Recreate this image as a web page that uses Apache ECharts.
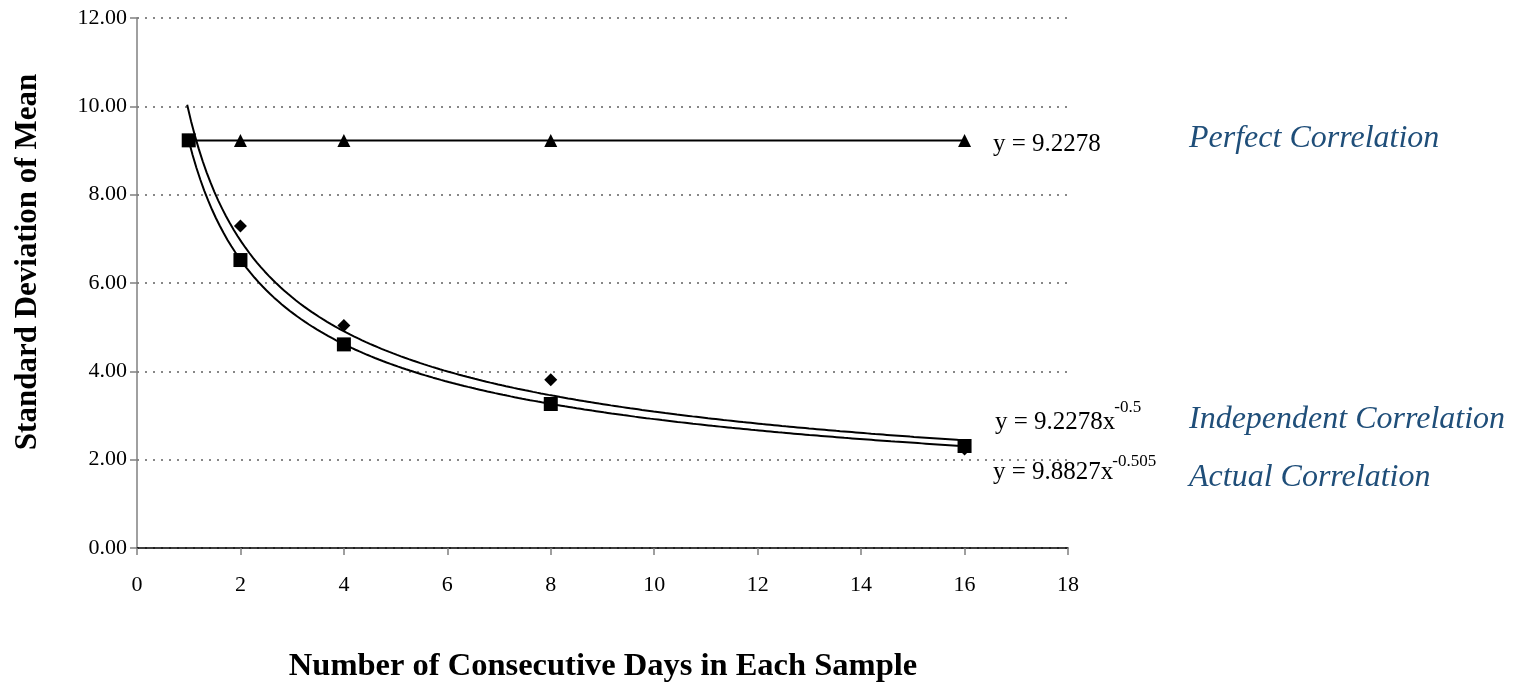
<!DOCTYPE html>
<html>
<head>
<meta charset="utf-8">
<script src="https://cdn.jsdelivr.net/npm/echarts@6/dist/echarts.min.js"></script>
<style>
html,body{margin:0;padding:0;background:#fff;overflow:hidden;}
#c{width:1519px;height:682px;}
</style>
</head>
<body>
<div id="c"></div>
<script>
// ---- data ----
const days = [1, 2, 4, 8, 16];
const perfect = [9.2278, 9.2278, 9.2278, 9.2278, 9.2278];
const independent = [9.23, 6.52, 4.61, 3.26, 2.31];
const actual = [9.23, 7.29, 5.04, 3.81, 2.24];
// trendline equations printed on the chart: y = a * x^b
const perfectTrend = { a: 9.2278, b: 0, from: 1, to: 16 };
const independentTrend = { a: 9.2278, b: -0.5, from: 1, to: 16 };
const actualTrend = { a: 9.8827, b: -0.505, from: 0.97, to: 16 };
const xTicks = [0, 2, 4, 6, 8, 10, 12, 14, 16, 18];
const yTicks = [0, 2, 4, 6, 8, 10, 12];
const seriesLabels = ['Perfect Correlation', 'Independent Correlation', 'Actual Correlation'];
const equations = [
  { main: 'y = 9.2278', sup: '' },
  { main: 'y = 9.2278x', sup: '-0.5' },
  { main: 'y = 9.8827x', sup: '-0.505' }
];
const xTitle = 'Number of Consecutive Days in Each Sample';
const yTitle = 'Standard Deviation of Mean';

function trend(t) {
  const pts = [];
  const n = 200;
  for (let i = 0; i <= n; i++) {
    const x = t.from + (t.to - t.from) * i / n;
    pts.push([x, t.a * Math.pow(x, t.b)]);
  }
  return pts;
}
const pair = (xs, ys) => xs.map((x, i) => [x, ys[i]]);

const serif = '"Liberation Serif", "Times New Roman", serif';
const eqFont = '25px ' + serif;
const supFont = '17px ' + serif;
const labFont = 'italic 32px ' + serif;
const mctx = document.createElement('canvas').getContext('2d');
function textW(t, f) { mctx.font = f; return mctx.measureText(t).width; }

const eqPos = [ { x: 993, y: 144, sy: 0 }, { x: 995, y: 422, sy: 408 }, { x: 993, y: 472, sy: 462 } ];
const labPos = [ { x: 1189, y: 139 }, { x: 1189, y: 420 }, { x: 1189, y: 478 } ];

const graphics = [];
equations.forEach((e, i) => {
  const p = eqPos[i];
  graphics.push({ type: 'text', x: p.x, y: p.y,
    style: { text: e.main, font: eqFont, fill: '#000', align: 'left', verticalAlign: 'middle' } });
  if (e.sup) {
    graphics.push({ type: 'text', x: p.x + textW(e.main, eqFont) - 1, y: p.sy,
      style: { text: e.sup, font: supFont, fill: '#000', align: 'left', verticalAlign: 'middle' } });
  }
});
seriesLabels.forEach((s, i) => {
  graphics.push({ type: 'text', x: labPos[i].x, y: labPos[i].y,
    style: { text: s, font: labFont, fill: '#1f4e79', align: 'left', verticalAlign: 'middle' } });
});
graphics.push({ type: 'text', x: 28, y: 262, rotation: Math.PI / 2,
  style: { text: yTitle, font: 'bold 31px ' + serif, fill: '#000', align: 'center', verticalAlign: 'middle' } });
graphics.push({ type: 'text', x: 603, y: 667,
  style: { text: xTitle, font: 'bold 32.5px ' + serif, fill: '#000', align: 'center', verticalAlign: 'middle' } });

const chart = echarts.init(document.getElementById('c'), null, { renderer: 'canvas' });

chart.setOption({
  animation: false,
  backgroundColor: '#fff',
  grid: { left: 137, right: 451, top: 18, bottom: 134, containLabel: false, outerBoundsMode: 'none' },
  xAxis: {
    type: 'value', min: 0, max: 18, interval: 2,
    axisLine: { show: true, lineStyle: { color: '#000', width: 1.5 } },
    axisTick: { show: true, length: 7, lineStyle: { color: '#808080', width: 1.5 } },
    axisLabel: { fontFamily: serif, fontSize: 22, color: '#000', margin: 26 },
    splitLine: { show: false }
  },
  yAxis: {
    type: 'value', min: 0, max: 12, interval: 2,
    axisLine: { show: true, lineStyle: { color: '#808080', width: 1.5 } },
    axisTick: { show: true, length: 7, lineStyle: { color: '#808080', width: 1.5 } },
    axisLabel: { fontFamily: serif, fontSize: 22, color: '#000', margin: 10,
      formatter: v => v.toFixed(2) },
    splitLine: { show: true, lineStyle: { color: '#606060', type: [2, 6], width: 1.5 } }
  },
  series: [
    { name: 'Actual trend', type: 'line', data: trend(actualTrend), showSymbol: false, symbol: 'none',
      lineStyle: { color: '#000', width: 2 }, z: 2 },
    { name: 'Independent trend', type: 'line', data: trend(independentTrend), showSymbol: false, symbol: 'none',
      lineStyle: { color: '#000', width: 2 }, z: 2 },
    { name: 'Perfect trend', type: 'line', data: trend(perfectTrend), showSymbol: false, symbol: 'none',
      lineStyle: { color: '#000', width: 2 }, z: 2 },
    { name: seriesLabels[0], type: 'scatter', data: pair(days, perfect), symbol: 'triangle', symbolSize: 13,
      itemStyle: { color: '#000', opacity: 1 }, z: 3 },
    { name: seriesLabels[2], type: 'scatter', data: pair(days, actual), symbol: 'diamond', symbolSize: 13,
      itemStyle: { color: '#000', opacity: 1 }, z: 4 },
    { name: seriesLabels[1], type: 'scatter', data: pair(days, independent), symbol: 'rect', symbolSize: 14,
      itemStyle: { color: '#000', opacity: 1 }, z: 5 }
  ],
  graphic: graphics
});
</script>
</body>
</html>
